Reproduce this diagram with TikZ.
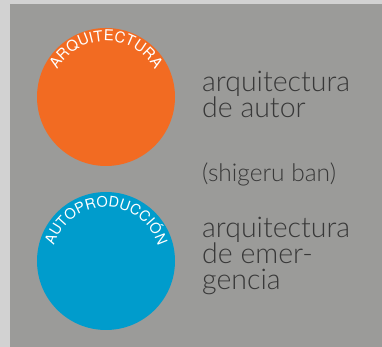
\documentclass[tikz,border=0pt]{standalone}
\usepackage{fontspec}
\usetikzlibrary{decorations.text}

\newfontfamily\thinfont{Lato Light}
\newfontfamily\capsfont{TeX Gyre Heros}

\definecolor{frame}{HTML}{D2D2D2}
\definecolor{panel}{HTML}{9B9B99}
\definecolor{naranja}{HTML}{F26B22}
\definecolor{azul}{HTML}{009CCC}
\definecolor{texto}{HTML}{383838}

\tikzset{
	disco/.style={circle,minimum size=138pt,inner sep=0pt},
	% base = baseline of the last line
	rotulo/.style={anchor=base west,inner sep=0pt,align=left,text=texto,
		font=\thinfont\fontsize{28.5}{26}\selectfont},
}

\begin{document}
\begin{tikzpicture}[x=1pt,y=1pt]

	\useasboundingbox (0,0) rectangle (382,347);
	\fill[frame] (0,0) rectangle (382,347);
	\fill[panel] (10,0) rectangle (382,343);

	\node[disco,fill=naranja] (arq) at (106,250) {};
	\node[disco,fill=azul] (auto) at (106,86) {};

	% letras en arco
	\path[decorate,decoration={text along path,text align=center,
		text={|\capsfont\fontsize{15}{15}\selectfont\color{white}|ARQUITECTURA}}]
		([shift={(180:56)}]arq.center) arc[start angle=180,end angle=0,radius=56];
	\path[decorate,decoration={text along path,text align=center,
		text={|\capsfont\fontsize{14.5}{14.5}\selectfont\color{white}|AUTOPRODUCCIÓN}}]
		([shift={(180:54)}]auto.center) arc[start angle=180,end angle=0,radius=54];

	\node[rotulo] (autor) at (202,229) {arquitectura\\de autor};
	\node[rotulo,font=\thinfont\fontsize{24.5}{24.5}\selectfont] (ban) at (202,165) {(shigeru ban)};
	\node[rotulo] (emer) at (202,57) {arquitectura\\de emer-\\gencia};

\end{tikzpicture}
\end{document}
